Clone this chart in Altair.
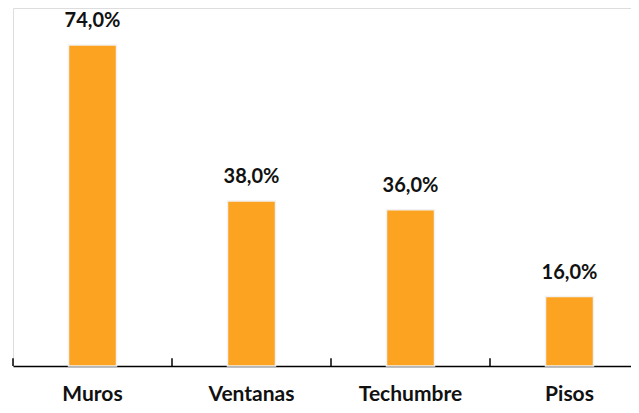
import altair as alt
import pandas as pd

categories = ["Muros", "Ventanas", "Techumbre", "Pisos"]
values = [74.0, 38.0, 36.0, 16.0]

df = pd.DataFrame({
    "cat": categories,
    "val": values,
    "label": [f"{v:.1f}%".replace(".", ",") for v in values],
    "tick": [0.0] * len(categories),
    "tick2": [1.8] * len(categories),
})

xscale = alt.Scale(domain=categories, paddingInner=0, paddingOuter=0)
yscale = alt.Scale(domain=[0, 82.5])

base = alt.Chart(df)

bars = base.mark_bar(color="#FCA322", stroke="#F2F2F2", strokeWidth=1.5,
                     width=alt.RelativeBandSize(0.302)).encode(
    x=alt.X("cat:N", scale=xscale, sort=categories,
            axis=alt.Axis(title=None, labelAngle=0, tickSize=0, domainColor="#000000",
                          domainWidth=1.5, labelFont="Lato", labelFontSize=21,
                          labelFontWeight="bold", labelColor="#111111", labelPadding=34,
                          labelBaseline="alphabetic", grid=False)),
    y=alt.Y("val:Q", scale=yscale, axis=None),
)

text = base.mark_text(font="Lato", fontSize=20, fontWeight="bold", color="#111111",
                      baseline="alphabetic", dy=-18).encode(
    x=alt.X("cat:N", scale=xscale, sort=categories),
    y=alt.Y("val:Q", scale=yscale),
    text="label:N",
)

ticks = base.mark_rule(color="#000000", strokeWidth=1.5).encode(
    x=alt.X("cat:N", scale=xscale, sort=categories, bandPosition=0),
    y=alt.Y("tick:Q", scale=yscale),
    y2="tick2:Q",
)

chart = alt.layer(bars, ticks, text).properties(
    width=636, height=358,
    autosize=alt.AutoSizeParams(type="none"),
    padding={"left": 5, "top": 0, "right": -18, "bottom": 39},
).configure_view(stroke="transparent", strokeWidth=0, fill="#FFFFFF").configure(background="#FFFFFF")

chart.save("out.html", embed_options={"renderer": "svg", "actions": False})
